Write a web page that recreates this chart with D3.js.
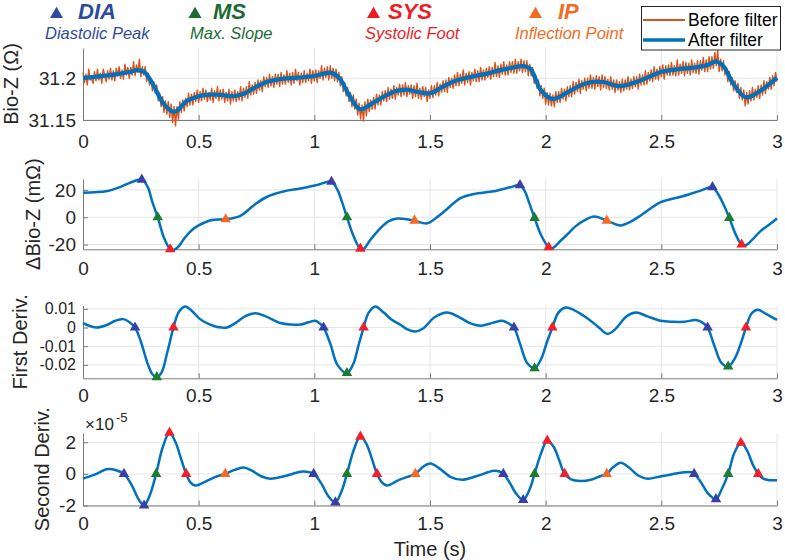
<!DOCTYPE html>
<html><head><meta charset="utf-8">
<script src="https://cdn.jsdelivr.net/npm/d3@7"></script>
<style>body{margin:0;background:#fff}svg{display:block}text{font-family:"Liberation Sans",Arial,Helvetica,sans-serif}</style>
</head><body><svg id="c" width="785" height="560"></svg>
<script>
// ---------------- DATA ----------------
const xTicks = [0, 0.5, 1, 1.5, 2, 2.5, 3];
const xTickLabels = ["0", "0.5", "1", "1.5", "2", "2.5", "3"];

// Panel 1: raw (before filter), sampled every 0.00625 s, offsets in mOhm from 31.2 Ohm
const rawBaseOhm = 31.2;
const rawStep = 0.00625;
const rawOffsetMilliOhm = [
7,-5,5,-8,11,-2,-1,-6,8,-3,11,-2,6,-6,11,4,-4,9,-1,12,
-2,9,-3,12,3,14,0,10,-1,17,4,13,0,13,4,20,3,16,7,23,
2,14,4,14,-4,6,-8,0,-15,-4,-18,-8,-27,-18,-34,-22,-41,-27,-43,-28,
-47,-31,-53,-34,-57,-34,-49,-28,-41,-26,-39,-24,-34,-18,-32,-19,-32,-17,-28,-14,
-29,-16,-27,-12,-25,-14,-28,-17,-26,-12,-29,-15,-24,-10,-27,-14,-25,-13,-29,-17,
-27,-13,-31,-16,-27,-14,-28,-16,-26,-10,-27,-12,-23,-10,-24,-4,-20,-8,-19,-5,
-18,-2,-14,-3,-16,2,-10,1,-11,5,-9,2,-11,5,-7,5,-10,7,-7,4,
-7,9,-5,6,-8,7,-6,11,-3,7,-8,6,-5,9,-5,6,-3,11,-6,9,
-3,10,-5,9,0,15,-2,12,1,14,-2,15,0,12,-3,11,-4,7,-9,2,
-16,-5,-21,-11,-28,-17,-34,-20,-37,-25,-44,-30,-49,-32,-51,-28,-45,-25,-40,-26,
-37,-23,-37,-19,-32,-20,-32,-16,-27,-15,-28,-11,-25,-13,-24,-9,-25,-11,-20,-7,
-22,-8,-20,-5,-22,-9,-19,-8,-24,-9,-22,-6,-24,-12,-25,-10,-22,-11,-28,-14,
-24,-9,-23,-9,-20,-5,-21,-7,-17,-3,-16,-2,-17,1,-11,0,-12,4,-9,7,
-9,5,-6,10,-8,6,-5,8,-8,7,-3,11,-4,9,-4,13,-2,10,-2,12,
1,14,-1,13,2,19,2,15,1,17,5,20,4,16,4,20,7,20,6,23,
6,20,9,23,7,21,8,21,3,17,3,13,-6,4,-12,-2,-21,-9,-24,-12,
-31,-17,-32,-18,-33,-20,-34,-16,-29,-16,-29,-12,-25,-13,-27,-10,-22,-9,-22,-4,
-19,-5,-16,-1,-18,-3,-13,0,-15,0,-12,4,-12,1,-13,3,-10,2,-14,4,
-11,2,-12,-1,-14,2,-13,-2,-17,-2,-14,-4,-17,-1,-15,-2,-13,2,-14,-1,
-12,2,-10,2,-13,5,-8,4,-8,9,-7,7,-3,10,-4,14,-1,11,-2,14,
2,16,-1,15,4,16,3,19,4,15,3,22,4,17,6,20,3,19,6,18,
4,22,7,18,6,21,5,21,10,25,8,22,8,26,11,26,12,31,15,33,
8,23,9,21,4,13,-4,8,-8,1,-15,-3,-17,-6,-24,-11,-26,-14,-33,-17,
-31,-15,-27,-11,-26,-13,-23,-9,-24,-8,-20,-3,-18,-4,-13,1,-13,3,-9,7,
-4];

// Panel 1: filtered Bio-Z (Ohm)
const filtT = [0,0.05,0.1,0.15,0.2,0.235,0.265,0.3,0.35,0.395,0.45,0.5,0.55,0.6,0.65,0.7,0.75,0.8,0.85,0.9,0.95,1.0,1.045,1.075,1.11,1.15,1.197,1.25,1.3,1.35,1.4,1.45,1.5,1.55,1.6,1.65,1.7,1.75,1.8,1.85,1.905,1.935,1.98,2.03,2.1,2.15,2.2,2.25,2.32,2.4,2.45,2.5,2.55,2.6,2.65,2.7,2.735,2.77,2.81,2.865,2.93,3.0];
const filtZ = [31.2004,31.2017,31.2032,31.2050,31.2075,31.2098,31.2075,31.1940,31.1690,31.1598,31.1730,31.1785,31.1805,31.1800,31.1785,31.1820,31.1900,31.1960,31.1990,31.2002,31.2012,31.2028,31.2058,31.2065,31.1996,31.1800,31.1630,31.1700,31.1780,31.1845,31.1865,31.1835,31.1820,31.1890,31.1960,31.2000,31.2030,31.2058,31.2095,31.2125,31.2146,31.2110,31.1854,31.1752,31.1840,31.1915,31.1955,31.1955,31.1905,31.1965,31.2020,31.2078,31.2100,31.2118,31.2130,31.2160,31.2199,31.2140,31.1940,31.1772,31.1854,31.2008];

// Panel 2: Delta Bio-Z (mOhm)
const deltaT = [0,0.05,0.1,0.15,0.2,0.254,0.28,0.3,0.323,0.35,0.377,0.39,0.41,0.44,0.47,0.5,0.557,0.617,0.68,0.74,0.796,0.87,0.94,1.01,1.074,1.1,1.12,1.141,1.17,1.199,1.215,1.24,1.28,1.32,1.36,1.4,1.433,1.488,1.53,1.56,1.632,1.69,1.776,1.848,1.889,1.91,1.93,1.952,1.98,2.013,2.03,2.06,2.094,2.13,2.165,2.21,2.264,2.325,2.37,2.411,2.498,2.584,2.67,2.721,2.745,2.77,2.794,2.82,2.847,2.865,2.89,2.93,2.97,3.0];
const deltaV = [18,18.3,19,21.5,25,27.5,22,11,0,-15,-23.5,-24,-22,-15,-9.5,-6,-2,-1.5,1,9,15,19,21,23.5,26,20,11,0,-14,-23,-23,-17,-9,-3,-1,-1.5,-2.5,-4.5,0,4,14,17,19,22,23.5,19,10,-0.5,-13,-22,-22.5,-18,-12.5,-6.5,-2.5,0.5,-2.5,-6,-3,1.3,11,15,19.5,22,17,9,-0.5,-12,-20,-20.5,-17,-10,-5,-1];
const deltaDIA = [[0.254,27.5],[1.074,26],[1.889,23.5],[2.721,22]];
const deltaMS  = [[0.323,0],[1.141,0],[1.952,-0.5],[2.794,-0.5]];
const deltaSYS = [[0.377,-23.5],[1.199,-23],[2.013,-22],[2.847,-20]];
const deltaIP  = [[0.617,-1.5],[1.433,-2.5],[2.264,-2.5]];

// Panel 3: first derivative
const d1T = [0,0.03,0.06,0.1,0.14,0.175,0.2,0.225,0.25,0.28,0.3,0.319,0.34,0.365,0.391,0.415,0.442,0.47,0.506,0.55,0.58,0.622,0.66,0.7,0.745,0.79,0.853,0.9,0.94,0.975,1.004,1.02,1.04,1.07,1.1,1.141,1.17,1.19,1.213,1.235,1.264,1.3,1.335,1.372,1.4,1.437,1.47,1.52,1.574,1.62,1.67,1.719,1.77,1.812,1.84,1.863,1.89,1.92,1.952,1.98,2.005,2.029,2.055,2.087,2.12,2.18,2.23,2.267,2.3,2.35,2.39,2.44,2.498,2.55,2.6,2.65,2.68,2.7,2.73,2.76,2.789,2.82,2.845,2.866,2.89,2.916,2.95,3.0];
const d1V = [0.0024,0.0008,0,0.0012,0.0036,0.0045,0.003,0,-0.0075,-0.0195,-0.025,-0.0266,-0.024,-0.013,0,0.0085,0.0113,0.009,0.0045,0.0015,0.0003,0,0.0025,0.006,0.0077,0.006,0.0024,0.0016,0.0016,0.0028,0.0036,0.0025,0,-0.009,-0.02,-0.0244,-0.019,-0.01,0,0.008,0.0113,0.008,0.0042,0.0015,-0.0008,-0.0021,-0.0005,0.0055,0.008,0.006,0.0025,0.001,0.0025,0.0036,0.0022,0,-0.009,-0.019,-0.0218,-0.017,-0.008,0,0.008,0.0107,0.0095,0.005,0,-0.0034,-0.001,0.006,0.008,0.006,0.0036,0.0031,0.0031,0.004,0.0025,0,-0.01,-0.019,-0.0209,-0.016,-0.008,0,0.0075,0.0095,0.0075,0.0041];
const d1DIA = [[0.225,0],[1.04,0],[1.863,0],[2.7,0]];
const d1MS  = [[0.319,-0.0266],[1.141,-0.0244],[1.952,-0.0218],[2.789,-0.0209]];
const d1SYS = [[0.391,0],[1.213,0],[2.029,0],[2.866,0]];

// Panel 4: second derivative (x 1e-5)
const d2T = [0,0.05,0.103,0.14,0.177,0.21,0.24,0.264,0.29,0.316,0.345,0.374,0.4,0.425,0.446,0.465,0.485,0.52,0.57,0.615,0.655,0.694,0.73,0.77,0.81,0.87,0.95,0.997,1.03,1.06,1.091,1.115,1.141,1.17,1.199,1.225,1.25,1.271,1.29,1.315,1.35,1.372,1.4,1.437,1.47,1.502,1.54,1.59,1.639,1.7,1.776,1.8,1.817,1.84,1.87,1.903,1.93,1.952,1.98,2.007,2.035,2.06,2.082,2.11,2.15,2.2,2.235,2.264,2.29,2.325,2.36,2.4,2.44,2.5,2.6,2.63,2.642,2.67,2.7,2.736,2.76,2.789,2.815,2.844,2.87,2.895,2.919,2.94,2.97,3.0];
const d2V = [-0.3,-0.05,0.3,0.25,0,-0.7,-1.6,-2,-1.3,0,1.7,2.6,2,0.9,0,-0.55,-0.74,-0.55,-0.2,0,0.25,0.4,0.2,-0.15,-0.3,-0.15,0.15,0,-0.6,-1.4,-1.8,-1.2,0,1.5,2.36,1.9,0.9,0,-0.5,-0.74,-0.5,-0.35,-0.2,0,0.45,0.65,0.35,-0.2,-0.37,-0.15,0.2,0.15,0,-0.45,-1.2,-1.65,-1,0,1.3,2.1,1.7,0.8,0,-0.35,-0.45,-0.35,-0.15,0,0.4,0.7,0.4,-0.1,-0.3,-0.15,0.1,0.1,0,-0.5,-1.2,-1.6,-1,0,1.3,1.97,1.5,0.6,0,-0.3,-0.4,-0.4];
const d2DIA = [[0.177,0],[0.264,-2],[0.997,0],[1.091,-1.8],[1.817,0],[1.903,-1.65],[2.642,0],[2.736,-1.6]];
const d2MS  = [[0.316,0],[1.141,0],[1.952,0],[2.789,0]];
const d2SYS = [[0.374,2.6],[0.446,0],[1.199,2.36],[1.271,0],[2.007,2.1],[2.082,0],[2.844,1.97],[2.919,0]];
const d2IP  = [[0.615,0],[1.437,0],[2.264,0]];

// Legend / header text
const eventCodes = ["DIA", "MS", "SYS", "IP"];
const eventNames = ["Diastolic Peak", "Max. Slope", "Systolic Foot", "Inflection Point"];
const seriesNames = ["Before filter", "After filter"];
const panelLabels = ["Bio-Z (\u03A9)", "\u0394Bio-Z (m\u03A9)", "First Deriv.", "Second Deriv."];
const yTicks1 = [31.15, 31.2], yTickLabels1 = ["31.15", "31.2"];
const yTicks2 = [-20, 0, 20], yTickLabels2 = ["-20", "0", "20"];
const yTicks3 = [-0.02, -0.01, 0, 0.01], yTickLabels3 = ["-0.02", "-0.01", "0", "0.01"];
const yTicks4 = [-2, 0, 2], yTickLabels4 = ["-2", "0", "2"];

// ---------------- STYLE / LAYOUT ----------------
const C = {raw:"#D95319", filt:"#0072BD", grid:"#e5e5e5", axis:"#7a7a7a", text:"#262626",
  DIA:"#2E4A9E", MS:"#1B6B30", SYS:"#EC1C24", IP:"#F26B22",
  mDIA:"#3A3FA6", mMS:"#1E7B32", mSYS:"#F01F2A", mIP:"#F46A25"};
const svg = d3.select("#c");
const x = d3.scaleLinear().domain([0, 3]).range([83, 777]);

function panel(o) {
  const y = d3.scaleLinear().domain(o.domain).range([o.bottom, o.top]);
  const g = svg.append("g");
  g.selectAll(null).data(xTicks.slice(1)).join("line")
    .attr("x1", d => x(d)).attr("x2", d => x(d)).attr("y1", o.top).attr("y2", o.bottom)
    .attr("stroke", C.grid).attr("stroke-width", 1);
  g.selectAll(null).data(o.yTicks).join("line")
    .attr("x1", x(0)).attr("x2", x(3)).attr("y1", d => y(d)).attr("y2", d => y(d))
    .attr("stroke", C.grid).attr("stroke-width", 1);
  const ax = d3.axisBottom(x).tickValues(xTicks).tickFormat((d, i) => xTickLabels[i])
    .tickSizeInner(-5).tickSizeOuter(0).tickPadding(o.xPad);
  const gx = g.append("g").attr("transform", `translate(0,${o.bottom})`).call(ax);
  const ay = d3.axisLeft(y).tickValues(o.yTicks).tickFormat((d, i) => o.yLabels[i])
    .tickSizeInner(-5).tickSizeOuter(0).tickPadding(7);
  const gy = g.append("g").attr("transform", `translate(${x(0)},0)`).call(ay);
  [gx, gy].forEach(a => {
    a.select(".domain").attr("stroke", C.axis);
    a.selectAll(".tick line").attr("stroke", C.axis);
    a.selectAll(".tick text").attr("fill", C.text).style("font-size", "19px")
      .style("font-family", '"Liberation Sans",Arial,sans-serif');
  });
  if (o.yFont) gy.selectAll(".tick text").style("font-size", o.yFont);
  svg.append("text").attr("transform", `translate(${o.labelX},${(o.top + o.bottom) / 2}) rotate(-90)`)
    .attr("text-anchor", "middle").attr("fill", C.text).style("font-size", "20px").text(o.label);
  return {g, y};
}

function markers(g, y, pts, color) {
  g.selectAll(null).data(pts).join("path")
    .attr("d", d3.symbol(d3.symbolTriangle, 48))
    .attr("transform", d => `translate(${x(d[0])},${y(d[1])})`)
    .attr("fill", color);
}

// Panel 1
const p1 = panel({domain:[31.15, 31.2363], top:48, bottom:120, yTicks:yTicks1, yLabels:yTickLabels1, xPad:14.5, label:panelLabels[0], labelX:18});
const rawPts = rawOffsetMilliOhm.map((v, i) => [i * rawStep, rawBaseOhm + v / 1000]);
p1.g.append("path").datum(rawPts)
  .attr("d", d3.line().x(d => x(d[0])).y(d => p1.y(d[1])))
  .attr("fill", "none").attr("stroke", C.raw).attr("stroke-width", 1.4).attr("stroke-linejoin", "round");
p1.g.append("path").datum(filtT.map((t, i) => [t, filtZ[i]]))
  .attr("d", d3.line().x(d => x(d[0])).y(d => p1.y(d[1])).curve(d3.curveCatmullRom))
  .attr("fill", "none").attr("stroke", C.filt).attr("stroke-width", 4.2);

// Panel 2
const p2 = panel({domain:[-23.5, 28], top:179, bottom:249.3, yTicks:yTicks2, yLabels:yTickLabels2, xPad:12.2, label:panelLabels[1], labelX:40});
p2.g.append("path").datum(deltaT.map((t, i) => [t, deltaV[i]]))
  .attr("d", d3.line().x(d => x(d[0])).y(d => p2.y(d[1])).curve(d3.curveCatmullRom))
  .attr("fill", "none").attr("stroke", C.filt).attr("stroke-width", 2.5);
markers(p2.g, p2.y, deltaDIA, C.mDIA);
markers(p2.g, p2.y, deltaMS, C.mMS);
markers(p2.g, p2.y, deltaSYS, C.mSYS);
markers(p2.g, p2.y, deltaIP, C.mIP);

// Panel 3
const p3 = panel({domain:[-0.0272, 0.0118], top:305.5, bottom:378.3, yTicks:yTicks3, yLabels:yTickLabels3, xPad:10.7, label:panelLabels[2], labelX:27, yFont:"16px"});
p3.g.append("path").datum(d1T.map((t, i) => [t, d1V[i]]))
  .attr("d", d3.line().x(d => x(d[0])).y(d => p3.y(d[1])).curve(d3.curveCatmullRom))
  .attr("fill", "none").attr("stroke", C.filt).attr("stroke-width", 2.5);
markers(p3.g, p3.y, d1DIA, C.mDIA);
markers(p3.g, p3.y, d1MS, C.mMS);
markers(p3.g, p3.y, d1SYS, C.mSYS);

// Panel 4
const p4 = panel({domain:[-2, 2.6], top:432.8, bottom:505.5, yTicks:yTicks4, yLabels:yTickLabels4, xPad:11, label:panelLabels[3], labelX:49});
p4.g.append("path").datum(d2T.map((t, i) => [t, d2V[i]]))
  .attr("d", d3.line().x(d => x(d[0])).y(d => p4.y(d[1])).curve(d3.curveCatmullRom))
  .attr("fill", "none").attr("stroke", C.filt).attr("stroke-width", 2.5);
markers(p4.g, p4.y, d2DIA, C.mDIA);
markers(p4.g, p4.y, d2MS, C.mMS);
markers(p4.g, p4.y, d2SYS, C.mSYS);
markers(p4.g, p4.y, d2IP, C.mIP);
svg.append("text").attr("x", 85).attr("y", 430).attr("fill", C.text).style("font-size", "17px").text("\u00D710");
svg.append("text").attr("x", 116).attr("y", 422).attr("fill", C.text).style("font-size", "13px").text("-5");

// x-axis title
svg.append("text").attr("x", x(1.5)).attr("y", 556).attr("text-anchor", "middle")
  .attr("fill", C.text).style("font-size", "20px").text("Time (s)");

// Header legend of event markers
const hdr = [{tri:56.5, title:78, sub:45}, {tri:195, title:213, sub:190}, {tri:373.5, title:388, sub:365}, {tri:535.5, title:558, sub:515}];
eventCodes.forEach((code, i) => {
  const col = C[code];
  svg.append("path").attr("d", d3.symbol(d3.symbolTriangle, 73))
    .attr("transform", `translate(${hdr[i].tri},14.2)`).attr("fill", col);
  svg.append("text").attr("x", hdr[i].title).attr("y", 18.5).attr("fill", col)
    .style("font-size", "22px").style("font-weight", "bold").style("font-style", "italic").text(code);
  svg.append("text").attr("x", hdr[i].sub).attr("y", 38.5).attr("fill", col)
    .style("font-size", "16.5px").style("font-style", "italic").text(eventNames[i]);
});

// Series legend box
const lg = svg.append("g");
lg.append("rect").attr("x", 641.5).attr("y", 6.5).attr("width", 139).attr("height", 43.5)
  .attr("fill", "#fff").attr("stroke", "#262626").attr("stroke-width", 1);
lg.append("line").attr("x1", 643).attr("x2", 685).attr("y1", 20).attr("y2", 20).attr("stroke", C.raw).attr("stroke-width", 1.8);
lg.append("line").attr("x1", 643).attr("x2", 685).attr("y1", 40).attr("y2", 40).attr("stroke", C.filt).attr("stroke-width", 3.5);
lg.append("text").attr("x", 688).attr("y", 26).attr("fill", "#000").style("font-size", "17.5px").text(seriesNames[0]);
lg.append("text").attr("x", 688).attr("y", 46).attr("fill", "#000").style("font-size", "17.5px").text(seriesNames[1]);
</script></body></html>
